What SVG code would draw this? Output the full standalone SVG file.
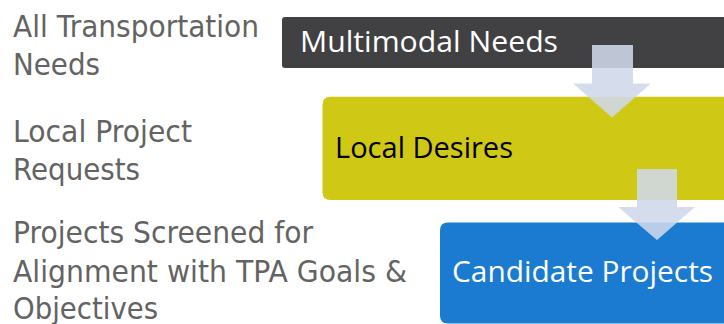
<svg xmlns="http://www.w3.org/2000/svg" width="724" height="324" viewBox="0 0 724 324">
<style>
.lbl{font-family:"DejaVu Sans","Liberation Sans",sans-serif;font-size:30px;fill:#636363}
.bx{font-family:"Open Sans","Noto Sans","Liberation Sans",sans-serif;font-size:30px}
.arrow{fill:#cfd8ea;fill-opacity:0.88}
</style>
<rect width="724" height="324" fill="#ffffff"/>
<g id="labels">
<g id="label-needs">
<text class="lbl" x="13" y="37" textLength="246" lengthAdjust="spacingAndGlyphs">All Transportation</text>
<text class="lbl" x="13" y="75" textLength="87" lengthAdjust="spacingAndGlyphs">Needs</text>
</g>
<g id="label-requests">
<text class="lbl" x="13" y="142" textLength="179" lengthAdjust="spacingAndGlyphs">Local Project</text>
<text class="lbl" x="13" y="180" textLength="127" lengthAdjust="spacingAndGlyphs">Requests</text>
</g>
<g id="label-screened">
<text class="lbl" x="13" y="243" textLength="300" lengthAdjust="spacingAndGlyphs">Projects Screened for</text>
<text class="lbl" x="13" y="281.5" textLength="394" lengthAdjust="spacingAndGlyphs">Alignment with TPA Goals &amp;</text>
<text class="lbl" x="13" y="318.5" textLength="145" lengthAdjust="spacingAndGlyphs">Objectives</text>
</g>
</g>
<g id="node-multimodal">
<path d="M285,17 H724 V68 H285 Q282,68 282,65 V20 Q282,17 285,17 Z" fill="#414143"/>
<text class="bx" x="300" y="52" fill="#ffffff" textLength="258" lengthAdjust="spacingAndGlyphs">Multimodal Needs</text>
</g>
<g id="node-local">
<path d="M330.5,96.7 H724 V200 H330.5 Q322.5,200 322.5,192 V104.7 Q322.5,96.7 330.5,96.7 Z" fill="#cfc814"/>
<text class="bx" x="335" y="158" fill="#000000" textLength="178" lengthAdjust="spacingAndGlyphs">Local Desires</text>
</g>
<g id="node-candidate">
<path d="M448,222.5 H724 V323.5 H448 Q440,323.5 440,315.5 V230.5 Q440,222.5 448,222.5 Z" fill="#1a7bd1"/>
<text class="bx" x="452" y="282" fill="#ffffff" textLength="261" lengthAdjust="spacingAndGlyphs">Candidate Projects</text>
</g>
<g id="connectors">
<polygon class="arrow" points="592,45 633,45 633,83.5 651,83.5 612,117.5 573,83.5 592,83.5"/>
<polygon class="arrow" points="637,169 677,169 677,207 695,207 657,240 618,207 637,207"/>
</g>
</svg>
